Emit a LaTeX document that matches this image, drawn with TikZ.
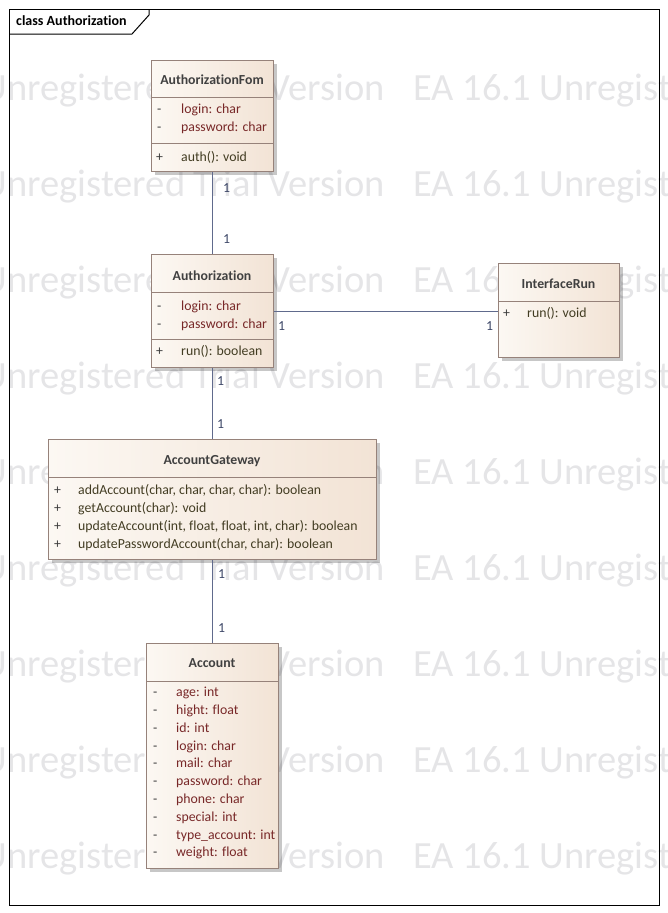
\documentclass[tikz,border=0pt]{standalone}
\usepackage{fontspec}
\setmainfont[Ligatures={NoCommon}]{Carlito}
\usetikzlibrary{shadows}
\definecolor{boxline}{RGB}{150,130,122}
\definecolor{boxleft}{RGB}{252,248,243}
\definecolor{boxright}{RGB}{242,227,213}
\definecolor{attrcol}{RGB}{120,40,40}
\definecolor{opcol}{RGB}{66,60,34}
\definecolor{viscol}{RGB}{60,60,60}
\definecolor{titlecol}{RGB}{64,64,64}
\definecolor{assoccol}{RGB}{96,106,140}
\definecolor{multcol}{RGB}{62,72,104}
\definecolor{wmcol}{RGB}{229,229,231}
\begin{document}
\begin{tikzpicture}[x=1pt,y=-1pt,
    classbox/.style={draw=boxline,line width=1pt,anchor=north west,inner sep=0pt,left color=boxleft,right color=boxright,
      drop shadow={shadow xshift=3pt,shadow yshift=-3pt,fill=black,opacity=0.22}},
    divider/.style={draw=boxline,line width=1pt},
    txt/.style={inner sep=0pt,anchor=base west,font=\fontsize{13.8}{16}\selectfont},
    ctitle/.style={txt,anchor=base,font=\fontsize{13.8}{16}\selectfont\bfseries,text=titlecol},
    vis/.style={txt,text=viscol},
    attr/.style={txt,text=attrcol},
    oper/.style={txt,text=opcol},
    mult/.style={txt,text=multcol},
    assoc/.style={draw=assoccol,line width=1pt},
    wmark/.style={inner sep=0pt,font=\fontsize{38.5}{40}\selectfont,text=wmcol}]
    \useasboundingbox (0,0) rectangle (668,913);
    \begin{scope}
      \clip (0,0) rectangle (668,913);
      \foreach \r in {0,...,8} {
        \node[wmark,anchor=base east] (wmL\r) at (385,{100+96*\r}) {Unregistered Trial Version};
        \node[wmark,anchor=base west] (wmR\r) at (413,{100+96*\r}) {EA 16.1 Unregistered Trial Version};
      }
    \end{scope}
    \draw[line width=1pt] (9,9) rectangle (659,905);
    \draw[line width=1pt] (9,34) -- (132,34) -- (149,15) -- (149,9);
    \node[txt,font=\fontsize{14}{16}\selectfont\bfseries] (frameTitle) at (16,25) {class Authorization};

    \node[classbox,minimum width=122,minimum height=111] (fom) at (151,60) {};
    \draw[divider] (151,97) -- (273,97) (151,143) -- (273,143);
    \node[ctitle] (fomTitle) at (212,84.7) {AuthorizationFom};
    \foreach \a [count=\i from 0] in {login: char, password: char} {
      \node[vis] (fomVis\i) at (157,{113.5+18*\i}) {-};
      \node[attr] (fomAttr\i) at (181,{113.5+18*\i}) {\a};
    }
    \node[vis] (fomVisOp) at (156,161) {+};
    \node[oper] (fomOp) at (181,161) {auth(): void};

    \node[classbox,minimum width=122,minimum height=113] (auth) at (151,254) {};
    \draw[divider] (151,292) -- (273,292) (151,339) -- (273,339);
    \node[ctitle] (authTitle) at (212,280) {Authorization};
    \foreach \a [count=\i from 0] in {login: char, password: char} {
      \node[vis] (authVis\i) at (157,{310+18*\i}) {-};
      \node[attr] (authAttr\i) at (181,{310+18*\i}) {\a};
    }
    \node[vis] (authVisOp) at (156,355.7) {+};
    \node[oper] (authOp) at (181,355.7) {run(): boolean};

    \node[classbox,minimum width=121,minimum height=94] (iface) at (498,263) {};
    \draw[divider] (498,301) -- (619,301);
    \node[ctitle] (ifaceTitle) at (558.5,288.7) {InterfaceRun};
    \node[vis] (ifaceVisOp) at (503,317.7) {+};
    \node[oper] (ifaceOp) at (527,317.7) {run(): void};

    \node[classbox,minimum width=328,minimum height=120] (gw) at (48,439) {};
    \draw[divider] (48,477) -- (376,477);
    \node[ctitle] (gwTitle) at (212,464) {AccountGateway};
    \foreach \m [count=\i from 0] in {{addAccount(char, char, char, char): boolean},{getAccount(char): void},
        {updateAccount(int, float, float, int, char): boolean},{updatePasswordAccount(char, char): boolean}} {
      \node[vis] (gwVis\i) at (54,{494.3+17.9*\i}) {+};
      \node[oper] (gwOp\i) at (78,{494.3+17.9*\i}) {\m};
    }

    \node[classbox,minimum width=132,minimum height=225] (acc) at (146,643) {};
    \draw[divider] (146,681) -- (278,681);
    \node[ctitle] (accTitle) at (212,667.3) {Account};
    \foreach \a [count=\i from 0] in {age: int, hight: float, id: int, login: char, mail: char, password: char,
        phone: char, special: int, type\_account: int, weight: float} {
      \node[vis] (accVis\i) at (153,{696.7+17.8*\i}) {-};
      \node[attr] (accAttr\i) at (176,{696.7+17.8*\i}) {\a};
    }

    \draw[assoc] (fom.south) -- (fom.south |- auth.north);
    \draw[assoc] (auth.east) -- (auth.east -| iface.west);
    \draw[assoc] (auth.south) -- (auth.south |- gw.north);
    \draw[assoc] (gw.south) -- (gw.south |- acc.north);
    \node[mult] (fomMult) at (223,192) {1};
    \node[mult] (authMultA) at (223,243) {1};
    \node[mult] (authMultB) at (278,330) {1};
    \node[mult] (ifaceMult) at (486,330) {1};
    \node[mult] (authMultC) at (217,385) {1};
    \node[mult] (gwMultA) at (217,428) {1};
    \node[mult] (gwMultB) at (218,578) {1};
    \node[mult] (accMult) at (218,632.7) {1};
\end{tikzpicture}
\end{document}
